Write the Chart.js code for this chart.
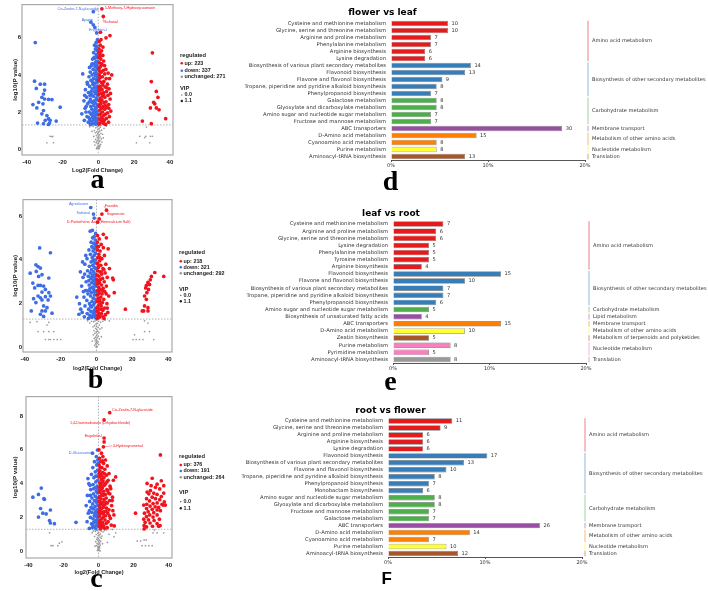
<!DOCTYPE html>
<html>
<head>
<meta charset="utf-8">
<script src="https://cdn.jsdelivr.net/npm/chart.js"></script>
<style>
  body { margin: 0; background: #fff; width: 708px; height: 591px; position: relative; overflow: hidden; }
  canvas { position: absolute; }
  .lt { position: absolute; width: 40px; text-align: center; font-family: "Liberation Serif", serif; font-weight: bold; font-size: 28px; line-height: 28px; color: #000; }
  .lts { font-family: "Liberation Sans", sans-serif; font-size: 17px; line-height: 17px; }
</style>
</head>
<body>
<canvas id="va" width="240" height="176" style="left:0;top:0"></canvas>
<canvas id="vb" width="240" height="178" style="left:0;top:195px"></canvas>
<canvas id="vc" width="240" height="189" style="left:0;top:390px"></canvas>
<canvas id="bd" width="476" height="174" style="left:232px;top:0"></canvas>
<canvas id="be" width="476" height="182" style="left:232px;top:195px"></canvas>
<canvas id="bf" width="476" height="181" style="left:232px;top:390px"></canvas>
<div class="lt" style="left:77.5px;top:164.6px">a</div>
<div class="lt" style="left:75.5px;top:364.6px">b</div>
<div class="lt" style="left:76.5px;top:563.6px">c</div>
<div class="lt" style="left:370.5px;top:166.6px">d</div>
<div class="lt" style="left:370.5px;top:366.6px">e</div>
<div class="lt lts" style="left:366.7px;top:569.6px">F</div>
<script>
// ---------- volcano data: [log2 fold change, -log10 p] ----------
const xTicksVolcano = [-40, -20, 0, 20, 40];
const aYTicks = [0, 2, 4, 6];
const bYTicks = [0, 2, 4, 6];
const cYTicks = [0, 2, 4, 6, 8];
const vipLevels = ['0.0', '1.1'];
const pCut = 1.3;
const fcCut = 0;

const aCounts = [223, 337, 271];
const aUp = [
  [0.5,5.8],[1.1,5.6],[0.4,5.4],[1.8,5.3],[0.9,5.15],[2.5,5.05],[0.3,4.95],[1.4,4.85],[3.0,4.75],[0.7,4.65],
  [2.0,4.55],[4.2,4.3],[1.2,4.45],[0.4,4.35],[2.8,4.25],[5.5,4.1],[1.7,4.15],[3.6,4.05],[0.6,4.0],[2.3,3.9],
  [1.0,3.85],[4.4,3.8],[0.3,3.7],[3.1,3.65],[1.6,3.6],[5.1,3.5],[2.5,3.45],[0.8,3.4],[3.8,3.35],[1.3,3.3],
  [6.0,3.25],[2.1,3.2],[0.5,3.15],[4.6,3.1],[3.0,3.05],[1.5,3.0],[0.3,2.95],[5.4,2.9],[2.4,2.85],[3.7,2.8],
  [1.0,2.75],[6.6,2.7],[2.0,2.65],[0.6,2.6],[4.3,2.55],[3.2,2.5],[1.4,2.45],[5.8,2.4],[0.4,2.35],[2.7,2.3],
  [4.9,2.25],[1.8,2.2],[3.6,2.15],[0.9,2.1],[7.0,2.05],[2.3,2.0],[5.2,1.95],[1.2,1.9],[3.9,1.88],[0.5,1.85],
  [2.8,1.8],[6.2,1.75],[1.6,1.7],[4.5,1.65],[0.8,1.6],[3.3,1.55],[2.0,1.5],[5.7,1.45],[1.1,1.42],[3.0,1.38],
  [0.4,1.35],[4.1,1.33],[7.5,4.0],[6.8,3.0],[2.6,5.5],[1.5,5.9],
  [0.3,5.2],[1.9,4.6],[0.8,4.2],[2.7,3.6],[0.3,3.3],[2.9,2.95],[1.5,2.6],[0.8,2.3],[2.5,1.62],[4.8,3.3],
  [3.5,4.5],[1.0,5.0],[5.9,2.2],[3.9,2.35],[6.3,3.8],
  [2,7.56],[2.8,7.15],[6.5,6.12],[4.3,6.0],[1.2,6.3],
  [30.2,5.19],[29.6,3.64],[32.4,3.11],[33.3,2.79],[30.9,2.52],[31.5,2.44],[29.1,2.22],[32.4,2.22],[33.9,2.12],
  [37.6,1.64],[24.6,1.51],[29.6,1.37]
];
const aDown = [
  [-0.5,5.9],[-1.2,5.75],[-0.8,5.55],[-2.1,5.6],[-1.6,5.4],[-0.4,5.3],[-2.6,5.2],[-1.1,5.1],[-0.6,4.95],[-1.9,4.9],
  [-3.2,4.85],[-0.3,4.75],[-1.4,4.7],[-2.5,4.6],[-0.9,4.55],[-3.8,4.5],[-1.8,4.45],[-0.5,4.35],[-2.9,4.3],[-1.2,4.25],
  [-4.5,4.15],[-2.2,4.1],[-0.7,4.05],[-3.5,4.0],[-1.6,3.95],[-5.2,3.9],[-0.4,3.85],[-2.7,3.8],[-1.1,3.75],[-4.1,3.7],
  [-3.1,3.62],[-0.8,3.6],[-1.9,3.55],[-6.0,3.5],[-2.4,3.45],[-0.5,3.4],[-4.8,3.38],[-1.4,3.3],[-3.4,3.25],[-7.2,3.2],
  [-0.9,3.15],[-2.1,3.1],[-5.5,3.05],[-1.6,3.0],[-3.9,2.95],[-0.4,2.9],[-2.8,2.85],[-6.5,2.8],[-1.2,2.75],[-4.4,2.7],
  [-0.7,2.65],[-8.0,2.6],[-2.3,2.6],[-3.3,2.52],[-1.7,2.48],[-5.9,2.45],[-0.5,2.4],[-2.6,2.35],[-4.2,2.3],[-1.0,2.25],
  [-7.4,2.2],[-3.6,2.15],[-1.9,2.1],[-0.4,2.05],[-5.1,2.0],[-2.9,1.98],[-1.3,1.95],[-9.2,1.9],[-4.0,1.88],[-0.8,1.85],
  [-2.2,1.8],[-6.3,1.75],[-3.2,1.72],[-1.6,1.68],[-0.5,1.65],[-4.7,1.6],[-2.5,1.58],[-7.8,1.55],[-1.1,1.52],[-3.7,1.5],
  [-5.6,1.45],[-0.6,1.42],[-2.0,1.4],[-3.0,1.37],[-1.4,1.34],[-4.3,1.33],[-8.7,4.05],[-6.8,2.3],[-5.0,2.55],[-4.0,3.1],
  [-3.5,4.6],
  [-0.3,5.0],[-1.5,4.1],[-2.0,3.3],[-0.6,3.0],[-3.6,2.55],[-1.5,2.2],[-2.6,1.75],[-0.9,1.5],[-5.3,1.7],[-6.9,2.0],
  [-4.6,2.9],[-3.0,3.5],[-0.7,4.45],[-2.3,4.95],[-1.3,5.35],[-7.6,2.9],[-6.2,3.6],[-4.9,4.4],
  [-2.8,7.41],[-4.1,6.84],[-2.8,6.7],[-1.9,6.56],[-0.9,6.26],
  [-35.2,5.74],[-35.6,3.66],[-32.4,3.5],[-30,3.5],[-30,3.18],[-34.6,3.27],[-30.6,2.97],[-31.5,2.79],[-30,2.7],
  [-27.8,2.68],[-25.9,2.67],[-33.3,2.52],[-36.5,2.4],[-30.9,2.44],[-21.3,2.26],[-34.3,2.22],[-30.6,2.08],[-31.5,1.9],
  [-28.7,1.81],[-27.8,1.64],[-29.6,1.55],[-26.9,1.55],[-23.5,1.51],[-33.9,1.4],[-27.2,1.4],[-30.6,1.37],[-27.8,1.33]
];
const aNs = [
  [0.2,1.25],[-0.6,1.2],[1.1,1.18],[-1.4,1.15],[0.5,1.1],[-0.3,1.05],[1.8,1.02],[-2.2,1.0],[0.8,0.97],[-0.9,0.93],
  [0.1,0.9],[-1.7,0.88],[1.4,0.85],[-0.4,0.82],[2.4,0.8],[0.6,0.76],[-1.1,0.73],[0.0,0.7],[-2.6,0.68],[1.0,0.65],
  [-0.5,0.62],[0.3,0.58],[1.7,0.55],[-1.5,0.52],[-0.2,0.5],[0.9,0.46],[-0.8,0.43],[0.4,0.4],[2.0,0.38],[-1.2,0.35],
  [0.1,0.32],[-0.4,0.28],[1.3,0.25],[-1.9,0.22],[0.6,0.2],[-0.1,0.17],[0.9,0.14],[-0.7,0.11],[0.3,0.08],[-0.3,0.05],
  [0.5,0.03],[-1.0,0.02],[1.5,1.28],[-2.9,1.22],[3.2,1.12],[-3.5,0.95],[4.5,1.25],[-4.8,1.2],[2.8,0.6],[-2.3,0.4],
  [26.9,1.19],[23.1,0.69],[26.5,0.69],[29.1,0.69],[30.2,0.69],[21.3,0.34],[28.7,0.34],[25.9,0.62],
  [-26.9,0.69],[-25.4,0.69],[-28.7,0.34],[-25,0.34],[-25.9,0.66]
];
const aLabelNames = ['Cis-Zeatin-7-N-glucoside', '5-Methoxy-7-Hydroxycoumarin', 'Ayapin', 'Safranal', 'Engeletin-I'];
const aLabelPts = [[-2.8,7.41],[2,7.56],[-4.1,6.84],[2.8,7.15],[-1.9,6.56]];
const aLabelUp = [false, true, false, true, false];

const bCounts = [218, 321, 292];
const bUp = [
  [0.6,5.1],[1.5,4.95],[0.4,4.8],[2.6,4.7],[1.1,4.6],[3.8,4.55],[0.5,4.45],[2.0,4.4],[1.3,4.25],[4.4,4.2],
  [0.7,4.1],[3.0,4.05],[1.8,3.95],[0.4,3.85],[5.2,3.8],[2.4,3.75],[1.0,3.65],[3.6,3.6],[0.6,3.5],[1.9,3.45],
  [4.8,3.4],[2.9,3.35],[0.4,3.3],[1.4,3.25],[6.0,3.2],[3.4,3.15],[2.2,3.1],[0.8,3.05],[4.3,3.0],[1.6,2.95],
  [0.4,2.9],[2.8,2.85],[5.5,2.8],[1.1,2.75],[3.7,2.7],[2.0,2.65],[0.6,2.6],[4.6,2.55],[1.5,2.5],[3.1,2.45],
  [0.4,2.4],[6.8,2.35],[2.4,2.3],[1.0,2.25],[4.0,2.2],[1.8,2.15],[0.5,2.1],[3.3,2.05],[5.8,2.0],[1.3,1.95],
  [2.6,1.9],[0.7,1.85],[4.5,1.8],[1.9,1.75],[3.5,1.7],[0.4,1.65],[6.3,1.6],[1.2,1.58],[2.8,1.55],[5.0,1.5],
  [0.8,1.47],[2.0,1.43],[3.8,1.4],[1.5,1.37],[0.5,1.34],[4.2,1.33],[9.4,3.09],[9.0,3.17],[9.9,2.5],[3.8,5.16],
  [7.2,3.6],[6.5,4.5],[5.5,5.0],
  [0.3,4.6],[1.9,4.1],[0.8,3.8],[2.6,3.45],[0.3,3.1],[3.3,2.6],[1.2,2.45],[2.2,2.0],[0.3,1.8],[5.4,2.45],
  [4.1,3.55],[3.0,1.75],[6.0,1.8],[1.6,2.95],
  [5.6,6.26],[3,6.08],[1.5,5.86],[0.6,5.71],
  [37.5,3.24],[32.5,3.42],[30.6,3.24],[30,3.09],[28.7,2.97],[27.8,2.83],[29.6,2.87],[27.4,2.72],[29,2.65],
  [28.1,2.5],[26.8,2.35],[27.8,2.2],[26.8,1.9],[28.7,1.82],[26.3,1.67],[25.5,1.67],[28.7,1.67],[16.1,1.75]
];
const bDown = [
  [-0.5,5.2],[-1.3,5.05],[-2.2,5.0],[-0.7,4.9],[-3.0,4.8],[-1.6,4.75],[-0.4,4.65],[-2.6,4.6],[-1.0,4.5],[-4.2,4.45],
  [-1.9,4.4],[-0.6,4.3],[-3.4,4.25],[-1.3,4.2],[-2.4,4.1],[-5.3,4.05],[-0.4,4.0],[-1.7,3.95],[-3.0,3.9],[-0.9,3.85],
  [-6.5,3.8],[-2.1,3.75],[-4.0,3.7],[-1.2,3.65],[-0.5,3.6],[-2.8,3.55],[-5.0,3.5],[-1.6,3.45],[-9.0,3.45],[-3.5,3.4],
  [-0.7,3.35],[-2.3,3.3],[-4.6,3.25],[-1.0,3.2],[-7.5,3.2],[-3.1,3.15],[-0.4,3.1],[-1.9,3.05],[-5.8,3.0],[-2.7,2.95],
  [-1.2,2.9],[-4.1,2.85],[-0.6,2.8],[-8.3,2.8],[-2.2,2.75],[-3.6,2.7],[-1.5,2.65],[-6.2,2.6],[-0.5,2.55],[-2.9,2.5],
  [-4.8,2.45],[-1.1,2.4],[-3.3,2.35],[-7.0,2.3],[-1.8,2.25],[-0.4,2.2],[-5.4,2.15],[-2.5,2.1],[-1.0,2.05],[-3.9,2.0],
  [-9.5,2.0],[-1.6,1.95],[-6.4,1.9],[-2.8,1.85],[-0.6,1.8],[-4.4,1.75],[-1.3,1.7],[-3.2,1.65],[-8.0,1.6],[-2.0,1.6],
  [-5.2,1.55],[-0.8,1.5],[-3.7,1.47],[-1.5,1.43],[-6.8,1.4],[-2.6,1.38],[-0.4,1.35],[-4.5,1.33],[-7.8,3.9],[-6.0,4.2],
  [-3.5,5.3],[-11.0,2.3],[-9.8,1.52],[-8.8,1.75],
  [-0.3,4.7],[-1.8,4.0],[-2.6,3.2],[-0.7,3.0],[-3.9,2.6],[-1.3,2.55],[-2.1,1.45],[-4.3,3.05],[-5.6,2.6],[-0.9,1.62],
  [-3.3,1.9],[-7.3,2.55],[-6.6,3.35],[-2.0,4.55],
  [-3.2,6.38],[-1.7,6.08],[-1.3,5.9],[-2.3,5.34],
  [-31.7,4.54],[-25.7,4.32],[-33.8,3.77],[-32.6,3.69],[-31.3,3.62],[-37,3.39],[-33.6,3.47],[-32.3,3.24],[-30.4,3.32],
  [-26.6,3.17],[-35.5,2.94],[-32.6,2.83],[-31.3,2.83],[-29.5,2.8],[-34.5,2.72],[-28.5,2.65],[-30.4,2.53],[-26.6,2.5],
  [-32.6,2.35],[-35.1,2.23],[-31.3,2.27],[-28.5,2.32],[-25.7,2.35],[-30.4,2.17],[-27,2.17],[-33.8,2.05],[-29.5,1.9],
  [-27.6,1.82],[-28.5,1.67],[-36.4,1.67],[-30.4,1.67],[-24.8,1.57],[-31.3,1.52],[-29.5,1.42]
];
const bNs = [
  [0.3,1.25],[-0.8,1.22],[1.2,1.2],[-1.6,1.18],[2.3,1.15],[-2.8,1.2],[0.6,1.1],[-0.3,1.07],[1.6,1.03],[-1.1,1.0],
  [0.1,0.97],[-2.0,0.95],[0.9,0.92],[-0.5,0.88],[1.9,0.85],[0.2,0.82],[-1.4,0.78],[0.7,0.75],[-0.2,0.72],[1.3,0.68],
  [-0.9,0.65],[0.4,0.62],[-1.8,0.58],[0.0,0.55],[1.0,0.52],[-0.6,0.48],[0.5,0.45],[-1.2,0.42],[1.6,0.4],[-0.3,0.37],
  [0.2,0.33],[-0.8,0.3],[0.9,0.27],[-0.1,0.24],[0.5,0.2],[-0.5,0.17],[1.2,0.14],[-1.0,0.1],[0.1,0.07],[0.4,0.04],
  [-0.2,0.02],[3.5,1.2],[-3.8,1.12],[4.8,1.25],[-5.0,1.22],[2.7,0.5],[-2.4,0.3],[3.0,0.9],[7.1,1.22],
  [-37,1.15],[-33.2,1.18],[-26.6,1.15],[-27.6,1.03],[-32.6,0.73],[-29.5,0.73],[-26.6,0.73],[-23.8,0.73],
  [-28.5,0.37],[-26.6,0.37],[-23.8,0.37],[-21.9,0.37],[-20,0.37],[-25.7,0.37],
  [26.8,1.22],[28.7,1.12],[21.2,0.58],[26.8,0.73],[29.6,0.73],[20.3,0.37],[22.1,0.37],[24,0.37],[25.9,0.37],[31.9,0.37]
];
const bLabelNames = ['Agroclavine', 'Safranal', 'Fraxidin', 'Sugeonate', 'D-Pantothenic Acid (Hemicalcium Salt)'];
const bLabelPts = [[-3.2,6.38],[-1.7,6.08],[5.6,6.26],[3,6.08],[0.6,5.71]];
const bLabelUp = [false, false, true, true, true];

const cCounts = [376, 191, 264];
const cUp = [
  [1.7,5.8],[2.5,5.6],[0.6,5.5],[4.0,5.4],[1.3,5.3],[2.9,5.2],[0.4,5.1],[5.0,5.05],[1.9,4.95],[3.6,4.85],
  [0.8,4.75],[2.4,4.65],[6.0,4.6],[1.2,4.55],[4.5,4.5],[9.8,4.4],[0.4,4.4],[3.1,4.35],[1.7,4.25],[5.5,4.2],
  [8.5,4.2],[2.6,4.15],[0.7,4.05],[4.0,4.0],[1.4,3.95],[3.3,3.9],[6.6,3.85],[0.5,3.8],[2.2,3.75],[7.0,3.7],
  [4.8,3.65],[1.0,3.6],[3.0,3.55],[0.4,3.5],[5.6,3.45],[1.8,3.4],[3.9,3.35],[2.6,3.3],[0.8,3.25],[8.0,3.2],
  [4.4,3.15],[1.4,3.1],[3.2,3.05],[6.3,3.0],[0.5,2.95],[2.2,2.9],[5.0,2.85],[1.1,2.8],[3.6,2.75],[7.5,2.7],
  [0.4,2.65],[2.8,2.6],[4.6,2.55],[1.6,2.5],[6.0,2.45],[0.7,2.4],[3.3,2.35],[2.1,2.3],[5.3,2.25],[1.0,2.2],
  [8.8,2.15],[4.0,2.1],[0.4,2.05],[2.6,2.0],[6.8,1.95],[1.5,1.9],[3.7,1.85],[0.8,1.8],[5.5,1.75],[2.3,1.7],
  [4.4,1.65],[1.1,1.6],[7.3,1.55],[3.0,1.5],[0.5,1.47],[1.9,1.43],[5.0,1.4],[3.5,1.36],[1.2,1.33],[9.0,1.5],
  [6.5,3.4],[2.0,4.45],[4.8,4.1],[0.9,2.6],[1.6,3.7],[2.8,2.2],[0.6,1.7],[4.2,2.9],
  [0.3,6.0],[2.3,5.35],[0.9,4.95],[3.4,4.6],[0.3,4.6],[2.1,4.05],[5.2,3.6],[0.3,3.2],[2.5,2.75],[4.3,2.35],
  [0.3,2.3],[2.1,1.55],[6.2,2.1],[3.0,3.35],[1.3,3.85],[7.8,3.0],[8.2,2.4],
  [6.4,8.2],[3.2,7.77],[3.2,6.7],[3.2,6.47],[2.8,6.18],
  [35.3,5.7],[30.6,4.32],[35.8,4.17],[27.7,4.01],[33.4,3.97],[37.2,3.88],[32.5,3.78],[34.9,3.69],[29.6,3.59],
  [31.5,3.44],[37.2,3.44],[28.7,3.4],[33.4,3.36],[35.8,3.24],[30.6,3.2],[27.4,3.11],[32.5,3.11],[34.9,3.05],
  [29.1,2.98],[37.5,2.92],[33.4,2.86],[31.1,2.82],[27.5,2.78],[36.2,2.78],[25.8,2.73],[29.4,2.67],[32.3,2.63],
  [34.3,2.59],[38.1,2.73],[27.4,2.53],[30.6,2.48],[33.4,2.44],[28.3,2.34],[31.5,2.28],[35.3,2.4],[26.2,2.25],
  [21.1,2.25],[29.2,2.15],[33.4,2.15],[27.4,2.05],[31.1,2.02],[25.8,1.9],[28.5,1.86],[31.7,1.82],[34.7,1.9],
  [26.6,1.71],[29.4,1.67],[33.4,1.63],[26,1.52],[27.4,1.44],[30.8,1.48],[35.1,1.52],[26,1.32],[36.8,2.73],
  [34.3,1.48],[27.7,3.5],[30,3.88]
];
const cDown = [
  [-0.6,5.99],[-3.4,5.8],[-1.2,5.6],[-0.4,5.4],[-2.3,5.3],[-1.0,5.1],[-3.2,4.95],[-0.5,4.8],[-1.8,4.7],[-4.0,4.55],
  [-0.9,4.45],[-2.6,4.35],[-0.4,4.2],[-1.5,4.1],[-5.5,4.0],[-3.1,3.95],[-0.8,3.85],[-2.0,3.75],[-4.4,3.65],[-1.2,3.55],
  [-0.5,3.45],[-2.8,3.4],[-6.3,3.3],[-1.7,3.25],[-3.7,3.15],[-0.7,3.1],[-2.3,3.0],[-5.0,2.95],[-1.1,2.9],[-3.3,2.8],
  [-0.4,2.75],[-7.0,2.7],[-1.9,2.65],[-4.2,2.6],[-2.7,2.5],[-0.8,2.45],[-1.5,2.35],[-3.8,2.3],[-5.8,2.25],[-0.5,2.2],
  [-2.4,2.1],[-1.2,2.05],[-4.6,2.0],[-3.1,1.92],[-0.7,1.88],[-1.9,1.8],[-6.5,1.75],[-2.8,1.7],[-4.0,1.62],[-1.0,1.58],
  [-0.4,1.5],[-2.2,1.45],[-3.5,1.4],[-5.2,1.35],[-1.5,1.33],[-4.8,3.9],[-6.0,4.3],
  [-0.3,5.2],[-1.6,4.45],[-0.4,3.7],[-2.7,3.7],[-1.4,3.0],[-3.6,2.55],[-0.3,2.45],[-2.0,2.25],[-1.1,1.75],[-3.2,1.55],
  [-4.6,3.3],[-5.2,2.4],
  [-37.4,3.2],[-34.2,3.36],[-32.6,3.74],[-31.1,3.11],[-30.8,3.07],[-33,2.53],[-31.7,2.25],[-29.8,2.21],[-34.2,2.02],
  [-27.4,2.44],[-27.9,1.82],[-27.4,1.67],[-25.1,1.63],[-12.8,1.71]
];
const cNs = [
  [0.4,1.26],[-0.7,1.22],[1.5,1.2],[-1.8,1.18],[2.6,1.15],[-2.9,1.2],[0.2,1.1],[-0.4,1.06],[1.1,1.02],[-1.3,0.99],
  [0.6,0.96],[-0.1,0.92],[2.0,0.9],[-2.2,0.87],[0.9,0.84],[-0.6,0.8],[1.6,0.77],[0.0,0.74],[-1.0,0.7],[0.5,0.66],
  [-0.3,0.63],[1.3,0.6],[-1.6,0.57],[0.2,0.54],[0.8,0.5],[-0.8,0.47],[0.3,0.44],[-0.2,0.4],[1.0,0.37],[-1.2,0.34],
  [0.5,0.3],[-0.5,0.27],[0.1,0.24],[0.7,0.2],[-0.3,0.17],[0.4,0.13],[-0.1,0.1],[0.2,0.06],[-0.6,0.04],[0.9,0.02],
  [3.4,1.22],[-3.6,1.1],[4.5,1.26],[2.3,0.45],[-2.0,0.3],[9.8,1.09],[7.9,1.29],[8.9,0.86],[5.1,0.52],[6.0,1.0],
  [-27.9,1.09],[-20.9,0.56],[-22.3,0.48],[-27,0.33],[-26,0.33],[-23.2,0.33],
  [37.2,1.09],[33.4,1.09],[31.1,1.09],[31.9,1.25],[22.1,0.61],[24,0.61],[26,0.67],[27.2,0.67],
  [24.9,0.33],[26.8,0.33],[28.7,0.33],[30.6,0.33]
];
const cLabelNames = ['Cis-Zeatin-7-N-glucoside', '1,4-Diaminobutane (Dihydrochloride)', 'Engeletin-I', '4-Hydroxynonenal', 'D-Glucosamine'];
const cLabelPts = [[6.4,8.2],[3.2,7.77],[3.2,6.7],[2.8,6.18],[-0.6,5.99]];
const cLabelUp = [true, true, true, true, false];

// ---------- KEGG bar data ----------
const pctTicks = [0, 10, 20];

const dPathways = ['Cysteine and methionine metabolism', 'Glycine, serine and threonine metabolism', 'Arginine and proline metabolism',
  'Phenylalanine metabolism', 'Arginine biosynthesis', 'Lysine degradation', 'Biosynthesis of various plant secondary metabolites',
  'Flavonoid biosynthesis', 'Flavone and flavonol biosynthesis', 'Tropane, piperidine and pyridine alkaloid biosynthesis',
  'Phenylpropanoid biosynthesis', 'Galactose metabolism', 'Glyoxylate and dicarboxylate metabolism',
  'Amino sugar and nucleotide sugar metabolism', 'Fructose and mannose metabolism', 'ABC transporters',
  'D-Amino acid metabolism', 'Cyanoamino acid metabolism', 'Purine metabolism', 'Aminoacyl-tRNA biosynthesis'];
const dCounts = [10, 10, 7, 7, 6, 6, 14, 13, 9, 8, 7, 8, 8, 7, 7, 30, 15, 8, 8, 13];
const dGroups = ['Amino acid metabolism', 'Biosynthesis of other secondary metabolites', 'Carbohydrate metabolism',
  'Membrane transport', 'Metabolism of other amino acids', 'Nucleotide metabolism', 'Translation'];
const dGroupSizes = [6, 5, 4, 1, 2, 1, 1];
const dTotal = 170;

const ePathways = ['Cysteine and methionine metabolism', 'Arginine and proline metabolism', 'Glycine, serine and threonine metabolism',
  'Lysine degradation', 'Phenylalanine metabolism', 'Tyrosine metabolism', 'Arginine biosynthesis', 'Flavonoid biosynthesis',
  'Flavone and flavonol biosynthesis', 'Biosynthesis of various plant secondary metabolites',
  'Tropane, piperidine and pyridine alkaloid biosynthesis', 'Phenylpropanoid biosynthesis',
  'Amino sugar and nucleotide sugar metabolism', 'Biosynthesis of unsaturated fatty acids', 'ABC transporters',
  'D-Amino acid metabolism', 'Zeatin biosynthesis', 'Purine metabolism', 'Pyrimidine metabolism', 'Aminoacyl-tRNA biosynthesis'];
const eCounts = [7, 6, 6, 5, 5, 5, 4, 15, 10, 7, 7, 6, 5, 4, 15, 10, 5, 8, 5, 8];
const eGroups = ['Amino acid metabolism', 'Biosynthesis of other secondary metabolites', 'Carbohydrate metabolism',
  'Lipid metabolism', 'Membrane transport', 'Metabolism of other amino acids', 'Metabolism of terpenoids and polyketides',
  'Nucleotide metabolism', 'Translation'];
const eGroupSizes = [7, 5, 1, 1, 1, 1, 1, 2, 1];
const eTotal = 134;

const fPathways = ['Cysteine and methionine metabolism', 'Glycine, serine and threonine metabolism', 'Arginine and proline metabolism',
  'Arginine biosynthesis', 'Lysine degradation', 'Flavonoid biosynthesis', 'Biosynthesis of various plant secondary metabolites',
  'Flavone and flavonol biosynthesis', 'Tropane, piperidine and pyridine alkaloid biosynthesis', 'Phenylpropanoid biosynthesis',
  'Monobactam biosynthesis', 'Amino sugar and nucleotide sugar metabolism', 'Glyoxylate and dicarboxylate metabolism',
  'Fructose and mannose metabolism', 'Galactose metabolism', 'ABC transporters', 'D-Amino acid metabolism',
  'Cyanoamino acid metabolism', 'Purine metabolism', 'Aminoacyl-tRNA biosynthesis'];
const fCounts = [11, 9, 6, 6, 6, 17, 13, 10, 8, 7, 6, 8, 8, 7, 7, 26, 14, 7, 10, 12];
const fGroups = ['Amino acid metabolism', 'Biosynthesis of other secondary metabolites', 'Carbohydrate metabolism',
  'Membrane transport', 'Metabolism of other amino acids', 'Nucleotide metabolism', 'Translation'];
const fGroupSizes = [5, 6, 4, 1, 2, 1, 1];
const fTotal = 166;

// ---------- styles ----------
Chart.defaults.font.family = "'DejaVu Sans', sans-serif";
Chart.defaults.color = '#333';
Chart.defaults.animation = false;

const RED = '#f0141e';
const BLUE = '#3d6ee6';
const GREY = '#9a9a9a';
const SET1 = ['#E41A1C', '#377EB8', '#4DAF4A', '#984EA3', '#FF7F00', '#FFFF33', '#A65628', '#F781BF', '#999999'];
const SET1_LIGHT = ['rgba(228,26,28,0.55)', 'rgba(55,126,184,0.55)', 'rgba(77,175,74,0.55)', 'rgba(152,78,163,0.55)',
  'rgba(255,127,0,0.55)', 'rgba(255,255,51,0.7)', 'rgba(166,86,40,0.55)', 'rgba(247,129,191,0.6)', 'rgba(153,153,153,0.6)'];
const SANS = '"Liberation Sans", sans-serif';

function dot(ctx, x, y, r, c) {
  ctx.fillStyle = c;
  ctx.beginPath();
  ctx.arc(x, y, r, 0, Math.PI * 2);
  ctx.fill();
}

// frame, cut-off lines, point names and legend for the volcano plots
const volcanoDecor = {
  id: 'volcanoDecor',
  beforeDatasetsDraw(chart, args, o) {
    const { ctx, chartArea: a, scales: { x, y } } = chart;
    const yc = y.getPixelForValue(pCut), xc = x.getPixelForValue(fcCut);
    ctx.save();
    ctx.strokeStyle = '#a0a0a0';
    ctx.lineWidth = 0.8;
    ctx.setLineDash([1.5, 1.5]);
    ctx.beginPath();
    ctx.moveTo(a.left, yc); ctx.lineTo(a.right, yc);
    ctx.moveTo(xc, a.top); ctx.lineTo(xc, a.bottom);
    ctx.stroke();
    ctx.restore();
  },
  afterDatasetsDraw(chart, args, o) {
    const { ctx, chartArea: a, scales: { x, y } } = chart;
    ctx.save();
    ctx.strokeStyle = '#a8a8a8';
    ctx.lineWidth = 1.2;
    ctx.strokeRect(a.left, a.top, a.right - a.left, a.bottom - a.top);

    // point names
    ctx.font = '3.7px ' + SANS;
    ctx.textBaseline = 'middle';
    o.names.forEach((name, i) => {
      const px = x.getPixelForValue(o.pts[i][0]), py = y.getPixelForValue(o.pts[i][1]);
      const [dx, dy, align] = o.offsets[i];
      const col = o.up[i] ? RED : BLUE;
      if (Math.abs(dx) > 4 || Math.abs(dy) > 4) {
        ctx.strokeStyle = col; ctx.lineWidth = 0.4;
        ctx.beginPath(); ctx.moveTo(px, py); ctx.lineTo(px + dx, py + dy); ctx.stroke();
      }
      ctx.fillStyle = col;
      ctx.textAlign = align;
      ctx.fillText(name, px + dx + (align === 'left' ? 0.8 : align === 'right' ? -0.8 : 0), py + dy);
    });

    // legend
    const lx = a.right + 7, ly = o.legendY;
    ctx.textAlign = 'left';
    ctx.fillStyle = '#222';
    ctx.font = 'bold 5.8px ' + SANS;
    ctx.fillText('regulated', lx, ly[0]);
    ctx.fillText('VIP', lx, ly[4]);
    ctx.font = 'bold 5.4px ' + SANS;
    const items = [['up: ' + o.counts[0], RED], ['down: ' + o.counts[1], BLUE], ['unchanged: ' + o.counts[2], GREY]];
    items.forEach(([t, c], i) => {
      dot(ctx, lx + 1.8, ly[i + 1], 1.3, c);
      ctx.fillStyle = '#222';
      ctx.fillText(t, lx + 4.5, ly[i + 1]);
    });
    dot(ctx, lx + 1.8, ly[5], 0.6, '#222');
    dot(ctx, lx + 1.8, ly[6], 1.2, '#222');
    ctx.fillStyle = '#222';
    ctx.fillText(vipLevels[0], lx + 4.5, ly[5]);
    ctx.fillText(vipLevels[1], lx + 4.5, ly[6]);
    ctx.restore();
  }
};

function volcano(id, up, down, ns, yTicks, L, lab) {
  const toXY = arr => arr.map(([x, y]) => ({ x, y }));
  const tickFont = { family: 'Liberation Sans', weight: 'bold', size: 6 };
  new Chart(document.getElementById(id), {
    type: 'scatter',
    data: {
      datasets: [
        { data: toXY(up), backgroundColor: RED, pointRadius: 1.85, borderWidth: 0 },
        { data: toXY(down), backgroundColor: BLUE, pointRadius: 1.85, borderWidth: 0 },
        { data: toXY(ns), backgroundColor: GREY, pointRadius: 0.85, borderWidth: 0 }
      ]
    },
    options: {
      responsive: false,
      animation: false,
      layout: { padding: { top: L.top, right: L.right, left: 0, bottom: 0 } },
      plugins: { legend: { display: false }, tooltip: { enabled: false }, volcanoDecor: lab },
      scales: {
        x: {
          type: 'linear', min: L.xMin, max: L.xMax,
          afterBuildTicks: s => { s.ticks = xTicksVolcano.map(v => ({ value: v })); },
          ticks: { font: tickFont, color: '#222', padding: 4, maxRotation: 0 },
          grid: { display: false, drawTicks: false },
          border: { display: false },
          title: { display: true, text: L.xTitle, color: '#222', font: { family: 'Liberation Sans', weight: 'bold', size: 5.6 },
                   padding: { top: 0, bottom: L.xTitlePad } },
          afterFit: s => { s.height = 21; }
        },
        y: {
          type: 'linear', min: L.yMin, max: L.yMax,
          afterBuildTicks: s => { s.ticks = yTicks.map(v => ({ value: v })); },
          ticks: { font: tickFont, color: '#222', padding: L.yPad },
          grid: { display: false, drawTicks: false },
          border: { display: false },
          title: { display: true, text: 'log10(P value)', color: '#222', font: { family: 'Liberation Sans', weight: 'bold', size: 6.2 },
                   padding: { top: L.yTitlePad, bottom: 0 } },
          afterFit: s => { s.width = L.yW; }
        }
      }
    },
    plugins: [volcanoDecor]
  });
}

volcano('va', aUp, aDown, aNs, aYTicks,
  { top: 1, right: 67, yW: 22, xMin: -42.6, xMax: 41.7, yMin: -0.32, yMax: 7.79, yPad: 1, yTitlePad: 11.3, xTitlePad: 2.6, xTitle: 'Log2(Fold Change)' },
  { names: aLabelNames, pts: aLabelPts, up: aLabelUp, counts: aCounts,
    offsets: [[5.7, -2.2, 'right'], [2.1, -0.7, 'left'], [-3.7, -2.3, 'center'], [0, 5.8, 'left'], [3, 2.3, 'center']],
    legendY: [55.7, 63.3, 70.7, 76.7, 88.3, 95, 101] });

volcano('vb', bUp, bDown, bNs, bYTicks,
  { top: 2, right: 68, yW: 23, xMin: -41, xMax: 42.1, yMin: -0.2, yMax: 6.74, yPad: 1, yTitlePad: 12, xTitlePad: 1.6, xTitle: 'log2(Fold Change)' },
  { names: bLabelNames, pts: bLabelPts, up: bLabelUp, counts: bCounts,
    offsets: [[-1.8, -4, 'right'], [-2.5, -1.5, 'right'], [-2.6, -4.4, 'left'], [4, 0, 'left'], [1, -0.7, 'center']],
    legendY: [57.3, 66.3, 72.3, 78.3, 94, 100.3, 106.3] });

volcano('vc', cUp, cDown, cNs, cYTicks,
  { top: 2, right: 68, yW: 26, xMin: -41.3, xMax: 41.9, yMin: -0.4, yMax: 9.15, yPad: 3, yTitlePad: 11.3, xTitlePad: 3.6, xTitle: 'log2(Fold Change)' },
  { names: cLabelNames, pts: cLabelPts, up: cLabelUp, counts: cCounts,
    offsets: [[1.5, -2.8, 'left'], [-4, 3.3, 'center'], [-1, -2.5, 'right'], [8.6, -0.9, 'left'], [-2.4, 3, 'right']],
    legendY: [66, 75, 81, 87.3, 102.7, 111.7, 118.3] });

// value labels, group brackets and title for the KEGG bar charts
const barExtras = {
  id: 'barExtras',
  afterDatasetsDraw(chart, args, o) {
    const { ctx, chartArea: a, scales: { x, y } } = chart;
    const counts = chart.data.datasets[0].data;
    ctx.save();
    ctx.font = '5.1px "DejaVu Sans"';
    ctx.fillStyle = '#333';
    ctx.textBaseline = 'middle';
    ctx.textAlign = 'left';
    counts.forEach((v, i) => ctx.fillText(String(v), x.getPixelForValue(v) + 3.5, y.getPixelForValue(i)));

    const half = (y.getPixelForValue(1) - y.getPixelForValue(0)) / 2;
    let start = 0;
    o.groups.forEach((g, gi) => {
      const end = start + o.sizes[gi] - 1;
      const y1 = y.getPixelForValue(start) - half + 0.7;
      const y2 = y.getPixelForValue(end) + half - 0.7;
      ctx.strokeStyle = SET1_LIGHT[gi];
      ctx.lineWidth = 1;
      ctx.beginPath(); ctx.moveTo(a.right + 3, y1); ctx.lineTo(a.right + 3, y2); ctx.stroke();
      ctx.fillStyle = '#333';
      ctx.fillText(g, a.right + 7, (y1 + y2) / 2);
      start = end + 1;
    });

    ctx.font = 'bold 9px "DejaVu Sans"';
    ctx.fillStyle = '#000';
    ctx.textAlign = 'center';
    ctx.fillText(o.title, o.titleX, o.titleY);
    ctx.restore();
  }
};

function keggBars(id, names, counts, groups, sizes, total, title, L) {
  const colors = [];
  sizes.forEach((n, gi) => { for (let k = 0; k < n; k++) colors.push(SET1[gi]); });
  new Chart(document.getElementById(id), {
    type: 'bar',
    data: {
      labels: names,
      datasets: [{ data: counts, backgroundColor: colors, borderColor: '#7a7a7a', borderWidth: 0.7,
                   barPercentage: 0.78, categoryPercentage: 1 }]
    },
    options: {
      indexAxis: 'y',
      responsive: false,
      animation: false,
      layout: { padding: { top: L.top, right: L.right, left: 0, bottom: 0 } },
      plugins: { legend: { display: false }, tooltip: { enabled: false },
                 barExtras: { groups, sizes, title, titleX: L.titleX, titleY: L.titleY } },
      scales: {
        x: {
          min: 0, max: total * pctTicks[2] / 100,
          afterBuildTicks: s => { s.ticks = pctTicks.map(p => ({ value: total * p / 100 })); },
          ticks: { font: { size: 5 }, color: '#333', padding: 1, maxRotation: 0,
                   callback: (v, i) => pctTicks[i] + '%' },
          grid: { drawOnChartArea: false, tickLength: 2, color: '#555' },
          border: { display: true, color: '#555', width: 1 },
          afterFit: s => { s.height = 14; }
        },
        y: {
          ticks: { font: { size: 5.25 }, color: '#333', padding: 5, autoSkip: false },
          grid: { display: false, drawTicks: false },
          border: { display: false },
          afterFit: s => { s.width = L.left; }
        }
      }
    },
    plugins: [barExtras]
  });
}

keggBars('bd', dPathways, dCounts, dGroups, dGroupSizes, dTotal, 'flower vs leaf',
  { left: 159, right: 123, top: 20, titleX: 150.5, titleY: 12.5 });
keggBars('be', ePathways, eCounts, eGroups, eGroupSizes, eTotal, 'leaf vs root',
  { left: 161, right: 122, top: 25.5, titleX: 159, titleY: 18.5 });
keggBars('bf', fPathways, fCounts, fGroups, fGroupSizes, fTotal, 'root vs flower',
  { left: 156, right: 126, top: 27.5, titleX: 158.5, titleY: 20.5 });
</script>
</body>
</html>
